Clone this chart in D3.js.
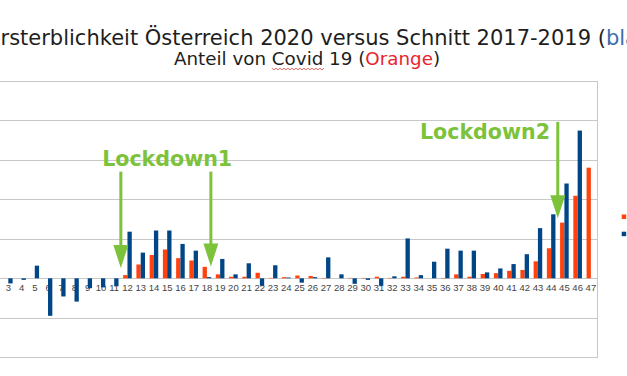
<!DOCTYPE html>
<html><head><meta charset="utf-8">
<script src="https://cdn.jsdelivr.net/npm/d3@7"></script>
<style>html,body{margin:0;padding:0;background:#fff;overflow:hidden}</style>
</head><body>
<svg id="c" width="627" height="376"></svg>
<script>
// Data: weekly excess mortality Austria 2020 vs 2017-2019 mean (blue) and Covid-19 share (orange)
const weeks = d3.range(1, 48);
const excessBlue = [-8,-6,-13,-4,32,-95,-46,-59,-25,-23,-20,118,65,121,121,87,70,3,49,10,38,-19,33,2,-11,3,53,10,-14,-4,-19,5,101,8,42,75,70,70,15,25,36,61,127,162,240,374,null];
const covidOrange = [0,0,0,0,0,0,0,0,0,0,0,8,35,59,73,51,45,29,10,4,4,14,1,3,7,6,1,0,1,1,4,1,4,2,0,1,10,4,11,13,19,21,43,76,141,209,280];
const gridTicks = [-200,-100,0,100,200,300,400,500];
const titleParts = [["Übersterblichkeit Österreich 2020 versus Schnitt 2017-2019 (", "#1e1e1e"], ["blau", "#3a6ea8"], [")", "#1e1e1e"]];
const subtitleParts = [["Anteil von ", "#1e1e1e"], ["Covid", "#1e1e1e"], [" 19 (", "#1e1e1e"], ["Orange", "#e8242a"], [")", "#1e1e1e"]];
const annotations = [
  {label: "Lockdown1", labelWeek: 15.0, labelY: 284, arrows: [{week: 11.5, from: 270, to: 26}, {week: 18.3, from: 270, to: 30}]},
  {label: "Lockdown2", labelWeek: 39.0, labelY: 353, arrows: [{week: 44.5, from: 396, to: 152}]}
];
const seriesKeys = ["covid", "excess"];
const colors = {covid: "#ff420e", excess: "#004586"};

const svg = d3.select("#c");
const x = d3.scaleBand().domain(weeks).range([-24.8, 597.5]).paddingInner(0.35).paddingOuter(0.175);
const xs = d3.scaleBand().domain(seriesKeys).range([0, x.bandwidth()]);
const y = d3.scaleLinear().domain([-200, 500]).range([357.3, 80.8]);
const step = x.step();
const xw = w => x(1) + x.bandwidth() / 2 + (w - 1) * step;

// gridlines
svg.append("g").selectAll("line").data(gridTicks).join("line")
  .attr("x1", -30).attr("x2", 597.5)
  .attr("y1", d => Math.round(y(d)) + 0.5).attr("y2", d => Math.round(y(d)) + 0.5)
  .attr("stroke", "#c8c8c8").attr("stroke-width", 1);
svg.append("line").attr("x1", 597.5).attr("x2", 597.5).attr("y1", y(500)).attr("y2", y(-200) + 0.5)
  .attr("stroke", "#c8c8c8");

// axis labels (weeks 1-2 lie outside the visible crop)
const ax = svg.append("g").attr("transform", `translate(0,${y(0)})`)
  .call(d3.axisBottom(x).tickValues(weeks.filter(w => xw(w) > 4)).tickSize(0).tickPadding(6));
ax.select(".domain").remove();
ax.selectAll("text").attr("font-family", "'Liberation Sans Narrow','Liberation Sans',sans-serif")
  .attr("font-size", 9.5).attr("fill", "#444");

// bars
const rows = weeks.map((w, i) => ({week: w, covid: covidOrange[i], excess: excessBlue[i]}));
svg.append("g").selectAll("g").data(rows).join("g")
  .attr("transform", d => `translate(${x(d.week)},0)`)
  .selectAll("rect").data(d => seriesKeys.filter(k => d[k] != null).map(k => ({k, v: d[k]})))
  .join("rect")
  .attr("x", d => xs(d.k)).attr("width", xs.bandwidth())
  .attr("y", d => y(Math.max(0, d.v))).attr("height", d => Math.abs(y(d.v) - y(0)))
  .attr("fill", d => colors[d.k]);

// legend (cut off at right)
svg.append("g").selectAll("rect").data(seriesKeys).join("rect")
  .attr("x", 621.7).attr("y", (d, i) => 214.5 + i * 17.2).attr("width", 4.5).attr("height", 4.5)
  .attr("fill", d => colors[d]);

// annotations
const green = "#7cc23a";
const ag = svg.append("g");
annotations.forEach(a => {
  ag.append("text").attr("x", xw(a.labelWeek)).attr("y", y(a.labelY)).attr("text-anchor", "middle")
    .attr("font-family", "'DejaVu Sans',Verdana,sans-serif").attr("font-weight", "bold")
    .attr("font-size", 20.6).attr("fill", green).text(a.label);
  a.arrows.forEach(r => {
    const cx = xw(r.week), y0 = y(r.from), y1 = y(r.to);
    ag.append("line").attr("x1", cx).attr("x2", cx).attr("y1", y0).attr("y2", y1 - 20)
      .attr("stroke", green).attr("stroke-width", 3);
    ag.append("path").attr("d", `M${cx - 7.5},${y1 - 23}L${cx + 7.5},${y1 - 23}L${cx},${y1}Z`).attr("fill", green);
  });
});

// titles
function richText(parts, cx, cy, size, anchor) {
  const t = svg.append("text").attr("x", cx).attr("y", cy).attr("text-anchor", anchor)
    .attr("font-family", "'DejaVu Sans',Verdana,sans-serif").attr("font-size", size);
  parts.forEach(p => t.append("tspan").attr("fill", p[1]).text(p[0]));
  return t;
}
// main title is cropped on both sides in the reference: "r" of "Übersterblichkeit" sits at the left edge
const title = richText(titleParts, 0, 44.5, 21, "start");
title.attr("x", -title.node().getStartPositionOfChar(3).x + 0.5);
const sub = richText(subtitleParts, 307, 65, 18.3, "middle");
// wavy spell-check underline under "Covid"
const node = sub.node();
const start = node.getStartPositionOfChar(11), end = node.getEndPositionOfChar(15);
let d = `M${start.x},${start.y + 3}`;
for (let xx = start.x, k = 0; xx < end.x; xx += 2, k++) d += `L${xx + 2},${start.y + (k % 2 ? 3 : 5)}`;
svg.append("path").attr("d", d).attr("fill", "none").attr("stroke", "#e0403a").attr("stroke-width", 0.8);
</script>
</body></html>
